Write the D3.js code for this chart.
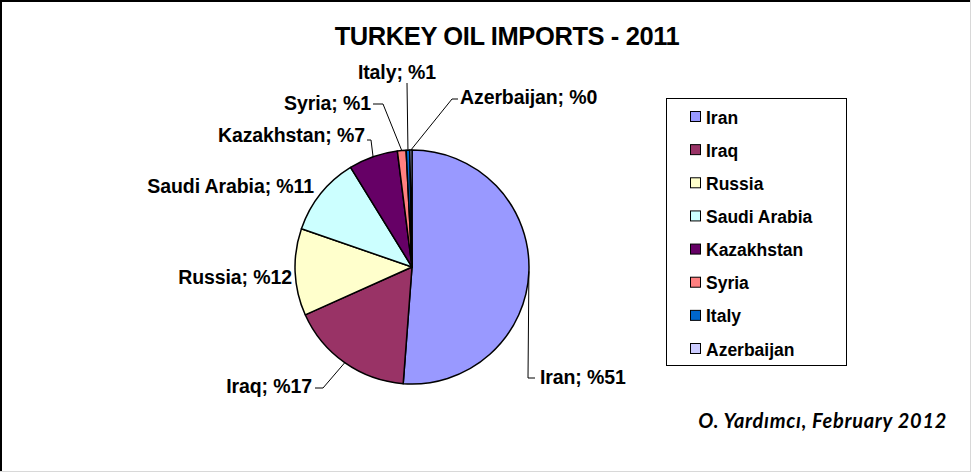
<!DOCTYPE html>
<html>
<head>
<meta charset="utf-8">
<script src="https://cdn.jsdelivr.net/npm/d3@7"></script>
<style>
  body { margin: 0; background: #fff; }
  text { font-family: "Liberation Sans", Arial, sans-serif; font-weight: bold; fill: #000; }
</style>
</head>
<body>
<script>
var width = 972,
    height = 473;

// data
var countries = ["Iran", "Iraq", "Russia", "Saudi Arabia", "Kazakhstan", "Syria", "Italy", "Azerbaijan"];
var shares = [51.2, 17.1, 12.0, 10.9, 6.8, 1.2, 0.5, 0.3];
var shownPct = [51, 17, 12, 11, 7, 1, 1, 0];
var sliceColors = ["#9999FF", "#993366", "#FFFFCC", "#CCFFFF", "#660066", "#FF8080", "#0066CC", "#CCCCFF"];

// label layout, offsets from the pie centre (x, y, anchor, leader points)
var labelLayout = [
  { x: 128,  y: 117,  a: "start",  leader: [[116, 111], [123, 111]] },
  { x: -100, y: 126,  a: "end",    leader: [[-89, 121], [-97, 121]] },
  { x: -120, y: 17,   a: "end",    leader: null },
  { x: -98,  y: -74,  a: "end",    leader: null },
  { x: -47,  y: -125, a: "end",    leader: [[-41, -127], [-45, -127]] },
  { x: -41,  y: -157, a: "end",    leader: [[-29, -163], [-39, -163]] },
  { x: -15,  y: -188, a: "middle", leader: [[-5, -184]] },
  { x: 48,   y: -163, a: "start",  leader: [[40, -168], [46, -168]] }
];

var cx = 412, cy = 267, radius = 117;

var svg = d3.select("body").append("svg")
    .attr("width", width)
    .attr("height", height);

// chart frame
svg.append("rect")
  .attr("x", 0.5).attr("y", 0.5)
  .attr("width", width - 2).attr("height", height - 2)
  .attr("fill", "#fff")
  .attr("stroke", "#d8d8d8");
svg.append("path")
  .attr("d", "M1," + (height - 2) + "V1H" + (width - 2))
  .attr("fill", "none")
  .attr("stroke", "#000")
  .attr("stroke-width", 2);

// title
svg.append("text")
  .attr("x", 507).attr("y", 45)
  .attr("text-anchor", "middle")
  .style("font-size", "25.5px")
  .style("letter-spacing", "-0.4px")
  .text("TURKEY OIL IMPORTS - 2011");

var rows = countries.map(function(c, i) {
  return { name: c, value: shares[i], pct: shownPct[i], color: sliceColors[i], layout: labelLayout[i] };
});

var pie = d3.pie().sort(null).value(function(d) { return d.value; });
var arc = d3.arc().innerRadius(0).outerRadius(radius);
var edge = d3.arc().innerRadius(radius).outerRadius(radius);

var g = svg.append("g").attr("transform", "translate(" + cx + "," + cy + ")");
var arcs = pie(rows);

g.selectAll("path.slice")
  .data(arcs)
  .enter().append("path")
  .attr("class", "slice")
  .attr("d", arc)
  .attr("fill", function(d) { return d.data.color; })
  .attr("stroke", "#000")
  .attr("stroke-width", 1.5)
  .attr("stroke-linejoin", "round");

// leader lines
g.selectAll("path.leader")
  .data(arcs.filter(function(d) { return d.data.layout.leader; }))
  .enter().append("path")
  .attr("class", "leader")
  .attr("fill", "none")
  .attr("stroke", "#000")
  .attr("stroke-width", 1)
  .attr("d", function(d) {
    var pts = [edge.centroid(d)].concat(d.data.layout.leader);
    return d3.line()(pts);
  });

// data labels
g.selectAll("text.label")
  .data(arcs)
  .enter().append("text")
  .attr("class", "label")
  .attr("x", function(d) { return d.data.layout.x; })
  .attr("y", function(d) { return d.data.layout.y; })
  .attr("text-anchor", function(d) { return d.data.layout.a; })
  .style("font-size", "19.5px")
  .style("letter-spacing", "-0.1px")
  .text(function(d) { return d.data.name + "; %" + d.data.pct; });

// legend
var legend = svg.append("g").attr("transform", "translate(666,98)");
legend.append("rect")
  .attr("x", 0.5).attr("y", 0.5)
  .attr("width", 180).attr("height", 267)
  .attr("fill", "#fff")
  .attr("stroke", "#000");

var ly = d3.scalePoint().domain(countries).range([19, 251]);

var item = legend.selectAll("g.item")
  .data(rows)
  .enter().append("g")
  .attr("class", "item")
  .attr("transform", function(d) { return "translate(24," + ly(d.name) + ")"; });

item.append("rect")
  .attr("x", 0.5).attr("y", -5.5)
  .attr("width", 10).attr("height", 10)
  .attr("fill", function(d) { return d.color; })
  .attr("stroke", "#000");

item.append("text")
  .attr("x", 16).attr("y", 6.5)
  .style("font-size", "17.5px")
  .text(function(d) { return d.name; });

// credit
svg.append("text")
  .attr("x", 947).attr("y", 428)
  .attr("text-anchor", "end")
  .style("font-family", "Lato, 'Open Sans', sans-serif")
  .style("font-style", "italic")
  .style("font-size", "20px")
  .style("letter-spacing", "0.7px")
  .text("O. Yardımcı, February 2012");
</script>
</body>
</html>
